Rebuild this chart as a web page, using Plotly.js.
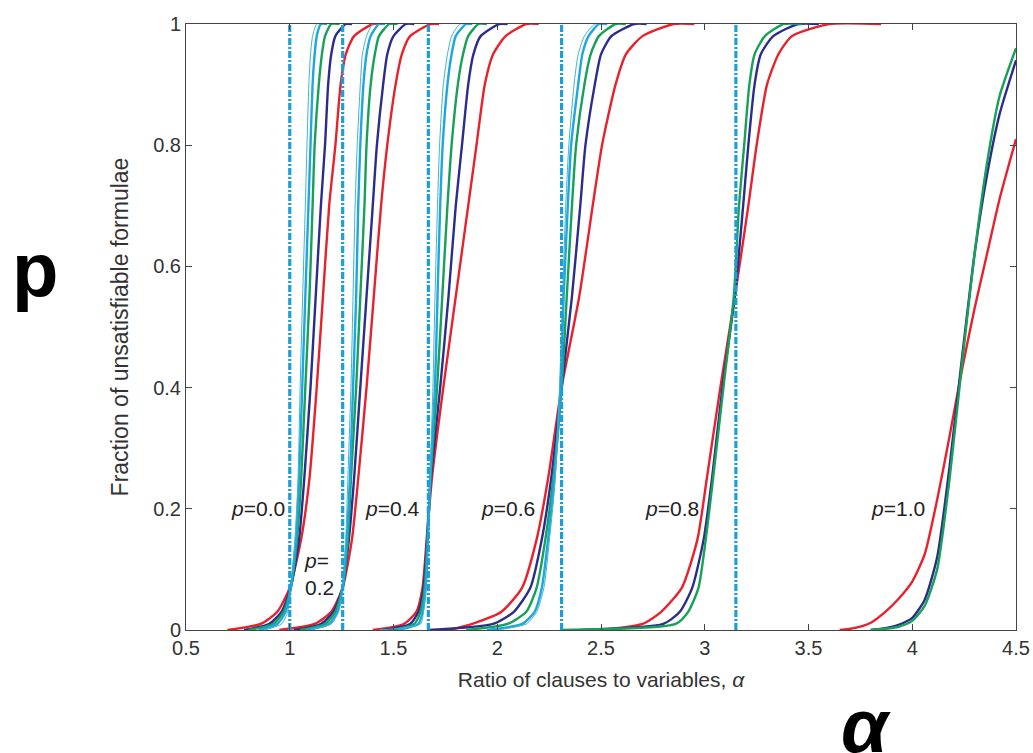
<!DOCTYPE html>
<html><head><meta charset="utf-8">
<script src="https://cdn.plot.ly/plotly-3.0.1.min.js"></script>
<style>html,body{margin:0;padding:0;background:#fff;}#chart{width:1033px;height:753px;}</style>
</head><body><div id="chart"></div>
<script>
// y levels at which the x positions of the curves were read (groups p=0.0 .. p=0.8)
const LEVELS = [0, 0.01, 0.03, 0.07, 0.15, 0.25, 0.4, 0.55, 0.7, 0.8, 0.9, 0.95, 0.98, 1, 1];

// p = 0.0
const P00_THIN  = [0.88, 0.96, 0.99, 1.005, 1.025, 1.04, 1.05, 1.062, 1.075, 1.083, 1.092, 1.10, 1.11, 1.13, 1.16];
const P00_CYAN  = [0.85, 0.94, 0.98, 1.005, 1.03, 1.045, 1.06, 1.075, 1.09, 1.10, 1.11, 1.12, 1.13, 1.15, 1.18];
const P00_GREEN = [0.80, 0.92, 0.97, 1.005, 1.035, 1.055, 1.075, 1.095, 1.11, 1.12, 1.14, 1.155, 1.17, 1.20, 1.24];
const P00_NAVY  = [0.78, 0.90, 0.96, 1.005, 1.045, 1.07, 1.10, 1.125, 1.15, 1.17, 1.185, 1.20, 1.22, 1.27, 1.30];
const P00_RED   = [0.70, 0.86, 0.94, 1.00, 1.055, 1.095, 1.13, 1.16, 1.19, 1.22, 1.245, 1.27, 1.31, 1.40, 1.45];
// p = 0.2
const P02_THIN  = [1.10, 1.20, 1.235, 1.255, 1.27, 1.28, 1.295, 1.305, 1.315, 1.325, 1.34, 1.35, 1.37, 1.40, 1.43];
const P02_CYAN  = [1.08, 1.19, 1.23, 1.255, 1.275, 1.29, 1.305, 1.32, 1.33, 1.34, 1.355, 1.37, 1.39, 1.43, 1.46];
const P02_GREEN = [1.05, 1.17, 1.22, 1.255, 1.28, 1.295, 1.32, 1.34, 1.36, 1.37, 1.39, 1.41, 1.43, 1.48, 1.52];
const P02_NAVY  = [1.02, 1.15, 1.21, 1.255, 1.285, 1.31, 1.34, 1.37, 1.40, 1.42, 1.45, 1.47, 1.50, 1.56, 1.60];
const P02_RED   = [0.95, 1.12, 1.20, 1.255, 1.30, 1.33, 1.37, 1.405, 1.44, 1.47, 1.51, 1.54, 1.58, 1.68, 1.72];
// p = 0.4
const P04_THIN  = [1.43, 1.63, 1.645, 1.658, 1.667, 1.676, 1.69, 1.70, 1.712, 1.722, 1.74, 1.76, 1.78, 1.82, 1.85];
const P04_CYAN  = [1.52, 1.62, 1.64, 1.655, 1.666, 1.677, 1.70, 1.712, 1.725, 1.737, 1.76, 1.78, 1.80, 1.85, 1.88];
const P04_GREEN = [1.50, 1.60, 1.63, 1.65, 1.664, 1.678, 1.71, 1.735, 1.76, 1.78, 1.81, 1.835, 1.86, 1.91, 1.95];
const P04_NAVY  = [1.45, 1.58, 1.62, 1.645, 1.662, 1.68, 1.725, 1.765, 1.80, 1.83, 1.86, 1.885, 1.92, 2.01, 2.05];
const P04_RED   = [1.40, 1.55, 1.61, 1.64, 1.66, 1.685, 1.74, 1.80, 1.86, 1.90, 1.94, 1.98, 2.04, 2.14, 2.20];
// p = 0.6
const P06_THIN  = [2.00, 2.14, 2.19, 2.225, 2.252, 2.28, 2.30, 2.315, 2.33, 2.345, 2.37, 2.39, 2.42, 2.47, 2.50];
const P06_CYAN  = [1.95, 2.12, 2.18, 2.215, 2.245, 2.275, 2.305, 2.32, 2.34, 2.356, 2.39, 2.41, 2.44, 2.49, 2.53];
const P06_GREEN = [1.85, 2.05, 2.14, 2.19, 2.232, 2.27, 2.31, 2.335, 2.36, 2.38, 2.42, 2.45, 2.49, 2.57, 2.62];
const P06_NAVY  = [1.67, 1.98, 2.08, 2.16, 2.215, 2.26, 2.31, 2.36, 2.40, 2.425, 2.47, 2.50, 2.55, 2.66, 2.72];
const P06_RED   = [1.77, 1.88, 2.02, 2.12, 2.19, 2.245, 2.31, 2.395, 2.46, 2.505, 2.57, 2.62, 2.70, 2.85, 2.95];
// p = 0.8
const P08_GREEN = [2.31, 2.86, 2.92, 2.97, 3.005, 3.04, 3.09, 3.14, 3.165, 3.19, 3.215, 3.24, 3.29, 3.38, 3.47];
const P08_NAVY  = [2.40, 2.80, 2.88, 2.94, 2.995, 3.035, 3.085, 3.145, 3.185, 3.21, 3.24, 3.27, 3.33, 3.45, 3.55];
const P08_RED   = [2.50, 2.70, 2.79, 2.89, 2.965, 3.01, 3.075, 3.145, 3.21, 3.25, 3.30, 3.355, 3.42, 3.60, 3.85];
// p = 1.0 (read on an x grid)
const P10_X     = [3.65, 3.72, 3.80, 3.87, 3.93, 4.00, 4.06, 4.12, 4.18, 4.24, 4.30, 4.36, 4.42, 4.50];
const P10_RED   = [0, 0.003, 0.012, 0.03, 0.05, 0.08, 0.125, 0.215, 0.32, 0.43, 0.53, 0.62, 0.71, 0.81];
const P10_NAVY  = [null, null, 0, 0.003, 0.008, 0.02, 0.05, 0.12, 0.27, 0.45, 0.62, 0.75, 0.85, 0.94];
const P10_GREEN = [null, null, 0, 0.002, 0.005, 0.015, 0.04, 0.10, 0.25, 0.44, 0.62, 0.77, 0.88, 0.96];

// thresholds (dash-dot vertical lines)
const THRESHOLDS = [1.0, 1.255, 1.668, 2.31, 3.15];
const Y_SPAN = [0, 1];

// labels
const LABEL_TEXT = ['<i>p</i>=0.0', '<i>p</i>=<br>0.2', '<i>p</i>=0.4', '<i>p</i>=0.6', '<i>p</i>=0.8', '<i>p</i>=1.0'];
const LABEL_X = [0.845, 1.06, 1.495, 2.05, 2.84, 3.93];
const LABEL_Y = [0.2, 0.092, 0.2, 0.2, 0.2, 0.2];

const COL = {thin:'#3fb3c8', cyan:'#1ea6de', green:'#16a058', navy:'#2b2c8c', red:'#e8212d'};
const WID = {thin:1, cyan:2.4, green:2.4, navy:2.4, red:2.4};
const FONT = 'Liberation Sans, Arial, sans-serif';

const traces = [];
function addLevelCurve(xs, key){
  traces.push({x: xs, y: LEVELS, type:'scatter', mode:'lines',
    line:{color:COL[key], width:WID[key], shape:'spline', smoothing:0.6}, hoverinfo:'skip', showlegend:false});
}
const groups = [
  {red:P00_RED, navy:P00_NAVY, green:P00_GREEN, cyan:P00_CYAN, thin:P00_THIN},
  {red:P02_RED, navy:P02_NAVY, green:P02_GREEN, cyan:P02_CYAN, thin:P02_THIN},
  {red:P04_RED, navy:P04_NAVY, green:P04_GREEN, cyan:P04_CYAN, thin:P04_THIN},
  {red:P06_RED, navy:P06_NAVY, green:P06_GREEN, cyan:P06_CYAN, thin:P06_THIN},
  {red:P08_RED, navy:P08_NAVY, green:P08_GREEN}
];
groups.forEach(g => {
  ['red','navy','green','cyan','thin'].forEach(k => { if (g[k]) addLevelCurve(g[k], k); });
});
[['red',P10_RED],['navy',P10_NAVY],['green',P10_GREEN]].forEach(([k, ys]) => {
  traces.push({x:P10_X, y:ys, type:'scatter', mode:'lines',
    line:{color:COL[k], width:WID[k], shape:'spline', smoothing:0.6}, hoverinfo:'skip', showlegend:false});
});
THRESHOLDS.forEach(t => {
  traces.push({x:[t, t], y:Y_SPAN, type:'scatter', mode:'lines',
    line:{color:'#1a9fdb', width:3.2, dash:'7px,2px,2px,2px'}, hoverinfo:'skip', showlegend:false});
});

const tickFont = {family:FONT, size:20, color:'#333'};
const annotations = LABEL_TEXT.map((t, i) => ({
  x: LABEL_X[i], y: LABEL_Y[i], xref:'x', yref:'y', text:t, showarrow:false,
  xanchor: i === 1 ? 'left' : 'center', yanchor:'middle', align:'left',
  font:{family:FONT, size:21, color:'#222'}
}));
annotations.push({x:-0.182, y:0.595, xref:'paper', yref:'paper', text:'<b>p</b>', showarrow:false,
  xanchor:'center', yanchor:'middle', font:{family:FONT, size:76, color:'#000'}});
annotations.push({x:0.819, y:-0.158, xref:'paper', yref:'paper', text:'<b><i>α</i></b>', showarrow:false,
  xanchor:'center', yanchor:'middle', font:{family:FONT, size:76, color:'#000'}});

const layout = {
  width:1033, height:753,
  margin:{l:186, r:17, t:24, b:123},
  paper_bgcolor:'#fff', plot_bgcolor:'#fff',
  showlegend:false,
  xaxis:{range:[0.5, 4.5], tickvals:[0.5,1,1.5,2,2.5,3,3.5,4,4.5], ticktext:['0.5','1','1.5','2','2.5','3','3.5','4','4.5'],
    ticks:'inside', ticklen:6, tickcolor:'#444', showline:true, linecolor:'#444', linewidth:1, mirror:'ticks',
    showgrid:false, zeroline:false, tickfont:tickFont,
    title:{text:'Ratio of clauses to variables, <i>α</i>', font:{family:FONT, size:21, color:'#333'}, standoff:14}},
  yaxis:{range:[0, 1], tickvals:[0,0.2,0.4,0.6,0.8,1], ticktext:['0','0.2','0.4','0.6','0.8','1'],
    ticks:'inside', ticklen:6, tickcolor:'#444', showline:true, linecolor:'#444', linewidth:1, mirror:'ticks',
    showgrid:false, zeroline:false, tickfont:tickFont,
    title:{text:'Fraction of unsatisfiable formulae', font:{family:FONT, size:23, color:'#333'}, standoff:18}},
  annotations: annotations
};
Plotly.newPlot('chart', traces, layout, {displayModeBar:false, staticPlot:true});
</script></body></html>
